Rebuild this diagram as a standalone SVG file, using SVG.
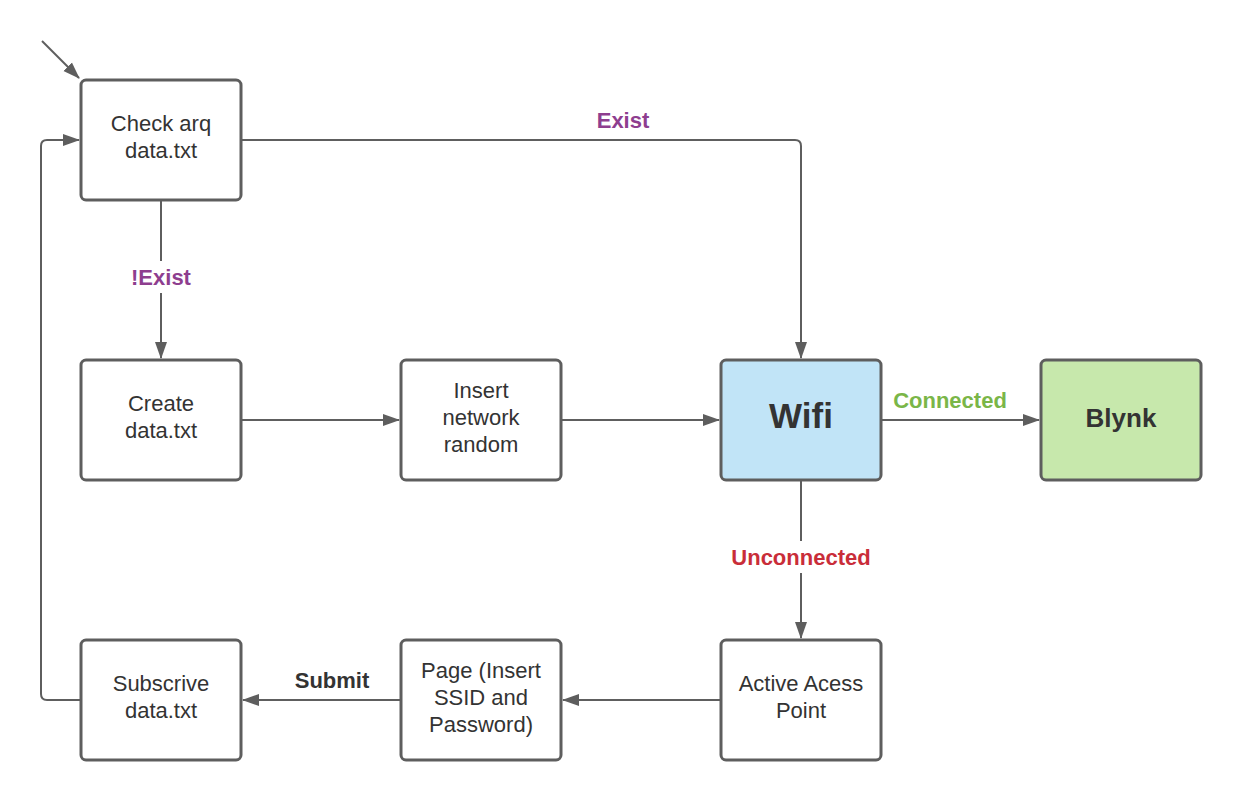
<svg xmlns="http://www.w3.org/2000/svg" width="1242" height="800" viewBox="0 0 1242 800">
<style>
.box{fill:#fff;stroke:#5e5e5e;stroke-width:3}
.t{font-family:"Liberation Sans",Arial,sans-serif;font-size:22px;fill:#333;text-anchor:middle}
.c{fill:none;stroke:#5e5e5e;stroke-width:2}
.lb{font-family:"Liberation Sans",Arial,sans-serif;font-size:22px;font-weight:bold;text-anchor:middle}
</style>
<defs>
<marker id="ah" markerWidth="18" markerHeight="14" refX="16" refY="7" orient="auto" markerUnits="userSpaceOnUse">
<path d="M0,1 L17,7 L0,13 Z" fill="#5e5e5e"/>
</marker>
</defs>
<rect width="1242" height="800" fill="#fff"/>
<g id="connectors">
<path class="c" d="M42,41 L79,78" marker-end="url(#ah)"/>
<path class="c" d="M242,140 L795,140 Q801,140 801,146 L801,358" marker-end="url(#ah)"/>
<path class="c" d="M161,201 L161,358" marker-end="url(#ah)"/>
<path class="c" d="M242,420 L399,420" marker-end="url(#ah)"/>
<path class="c" d="M562,420 L719,420" marker-end="url(#ah)"/>
<path class="c" d="M882,420 L1039,420" marker-end="url(#ah)"/>
<path class="c" d="M801,481 L801,638" marker-end="url(#ah)"/>
<path class="c" d="M720,700 L563,700" marker-end="url(#ah)"/>
<path class="c" d="M400,700 L243,700" marker-end="url(#ah)"/>
<path class="c" d="M80,700 L47,700 Q41,700 41,694 L41,146 Q41,140 47,140 L79,140" marker-end="url(#ah)"/>
<rect x="125" y="261" width="72" height="32" fill="#fff"/>
<rect x="725" y="541" width="152" height="32" fill="#fff"/>
<text class="lb" x="623" y="128" fill="#8e3e8f">Exist</text>
<text class="lb" x="161" y="285" fill="#8e3e8f">!Exist</text>
<text class="lb" x="950" y="408" fill="#7ab648">Connected</text>
<text class="lb" x="801" y="565" fill="#c92d39">Unconnected</text>
<text class="lb" x="332" y="688" fill="#333">Submit</text>
</g>
<g id="check">
<rect class="box" x="81" y="80" width="160" height="120" rx="5"/>
<text class="t" x="161" y="131">Check arq</text>
<text class="t" x="161" y="158">data.txt</text>
</g>
<g id="create">
<rect class="box" x="81" y="360" width="160" height="120" rx="5"/>
<text class="t" x="161" y="411">Create</text>
<text class="t" x="161" y="438">data.txt</text>
</g>
<g id="insert">
<rect class="box" x="401" y="360" width="160" height="120" rx="5"/>
<text class="t" x="481" y="398">Insert</text>
<text class="t" x="481" y="425">network</text>
<text class="t" x="481" y="452">random</text>
</g>
<g id="wifi">
<rect class="box" x="721" y="360" width="160" height="120" rx="5" style="fill:#c1e4f7"/>
<text class="t" x="801" y="428" style="font-size:35px;font-weight:bold">Wifi</text>
</g>
<g id="blynk">
<rect class="box" x="1041" y="360" width="160" height="120" rx="5" style="fill:#c7e8ac"/>
<text class="t" x="1121" y="427" style="font-size:26px;font-weight:bold">Blynk</text>
</g>
<g id="ap">
<rect class="box" x="721" y="640" width="160" height="120" rx="5"/>
<text class="t" x="801" y="691">Active Acess</text>
<text class="t" x="801" y="718">Point</text>
</g>
<g id="page">
<rect class="box" x="401" y="640" width="160" height="120" rx="5"/>
<text class="t" x="481" y="678">Page (Insert</text>
<text class="t" x="481" y="705">SSID and</text>
<text class="t" x="481" y="732">Password)</text>
</g>
<g id="subscrive">
<rect class="box" x="81" y="640" width="160" height="120" rx="5"/>
<text class="t" x="161" y="691">Subscrive</text>
<text class="t" x="161" y="718">data.txt</text>
</g>
</svg>
